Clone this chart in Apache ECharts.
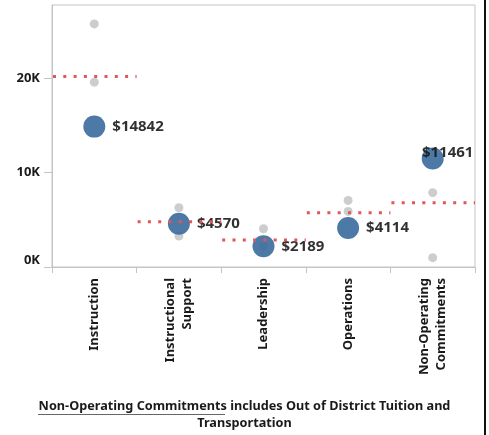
<!DOCTYPE html>
<html>
<head>
<meta charset="utf-8">
<script src="https://cdn.jsdelivr.net/npm/echarts@6/dist/echarts.min.js"></script>
<style>
  html, body { margin: 0; padding: 0; background: #fff; }
  #main { width: 489px; height: 435px; }
</style>
</head>
<body>
<div id="main"></div>
<script>
// categories along the x axis
var categories = ['Instruction', 'Instructional\nSupport', 'Leadership', 'Operations', 'Non-Operating\nCommitments'];
// district spending per category (blue)
var districtValues = [14842, 4570, 2189, 4114, 11461];
// comparison districts (grey dots)
var peerHigh = [25700, 6270, 4050, 7040, 7860];
var peerLow = [19540, 3270, 2200, 5880, 990];
// average (red dotted line)
var averageValues = [20140, 4790, 2850, 5740, 6800];
// y axis ticks
var yTicks = [0, 10000, 20000];

var font = 'Noto Sans';
var chart = echarts.init(document.getElementById('main'));

var peerData = [];
categories.forEach(function (c, i) {
  peerData.push([i, peerHigh[i]]);
  peerData.push([i, peerLow[i]]);
});

var districtData = districtValues.map(function (v, i) {
  var item = { value: [i, v] };
  // last label sits on the dot (no room on the right)
  if (i === districtValues.length - 1) {
    item.label = { position: 'inside', offset: [15, -6] };
  }
  return item;
});

var avgData = averageValues.map(function (v, i) { return [i, v]; });

chart.setOption({
  animation: false,
  grid: {
    left: 52, right: 14, top: 5, bottom: 168,
    show: true, borderColor: '#c4c4c4', borderWidth: 1
  },
  xAxis: {
    type: 'category',
    data: categories,
    boundaryGap: true,
    axisLine: { lineStyle: { color: '#c4c4c4' } },
    axisTick: { show: true, length: 6, lineStyle: { color: '#c4c4c4' } },
    axisLabel: {
      rotate: 90, interval: 0, margin: 11,
      color: '#1a1a1a', fontFamily: font, fontWeight: 'bold', fontSize: 13,
      lineHeight: 17
    },
    splitLine: { show: false }
  },
  yAxis: {
    type: 'value',
    min: 0, max: 27700, interval: 10000,
    axisLine: { show: true, lineStyle: { color: '#c4c4c4' } },
    axisTick: { show: true, length: 8, customValues: yTicks, lineStyle: { color: '#c4c4c4' } },
    axisLabel: {
      customValues: yTicks,
      margin: 12,
      color: '#1a1a1a', fontFamily: font, fontWeight: 'bold', fontSize: 13,
      verticalAlignMinLabel: 'bottom',
      formatter: function (v) { return (v / 1000) + 'K'; }
    },
    splitLine: { show: false }
  },
  series: [
    {
      type: 'scatter',
      data: peerData,
      symbolSize: 9,
      itemStyle: { color: '#c0c0c0' },
      z: 2
    },
    {
      type: 'scatter',
      data: districtData,
      symbolSize: 22,
      itemStyle: { color: '#3a6a9d', opacity: 0.9 },
      label: {
        show: true, position: 'right', distance: 7,
        color: '#1a1a1a', fontFamily: font, fontWeight: 'bold', fontSize: 15,
        formatter: function (p) { return '$' + p.value[1]; }
      },
      z: 3
    },
    {
      type: 'custom',
      data: avgData,
      renderItem: function (params, api) {
        var pt = api.coord([api.value(0), api.value(1)]);
        var w = api.size([1, 0])[0];
        return {
          type: 'line',
          shape: { x1: pt[0] - w / 2 + 1, y1: pt[1], x2: pt[0] + w / 2, y2: pt[1] },
          style: { stroke: '#e15759', lineWidth: 3, lineDash: [3, 7.3] }
        };
      },
      z: 4
    }
  ],
  graphic: [
    {
      type: 'text', left: 'center', top: 398,
      style: {
        text: 'Non-Operating Commitments includes Out of District Tuition and\nTransportation',
        textAlign: 'center', fill: '#1a1a1a',
        font: 'bold 12.7px "Noto Sans"', lineHeight: 17
      }
    },
    {
      type: 'line',
      shape: { x1: 38, y1: 414.5, x2: 225, y2: 414.5 },
      style: { stroke: '#666', lineWidth: 1 }
    },
    {
      type: 'rect',
      shape: { x: 484, y: 0, width: 2, height: 435 },
      style: { fill: '#111' }
    }
  ]
});
</script>
</body>
</html>
